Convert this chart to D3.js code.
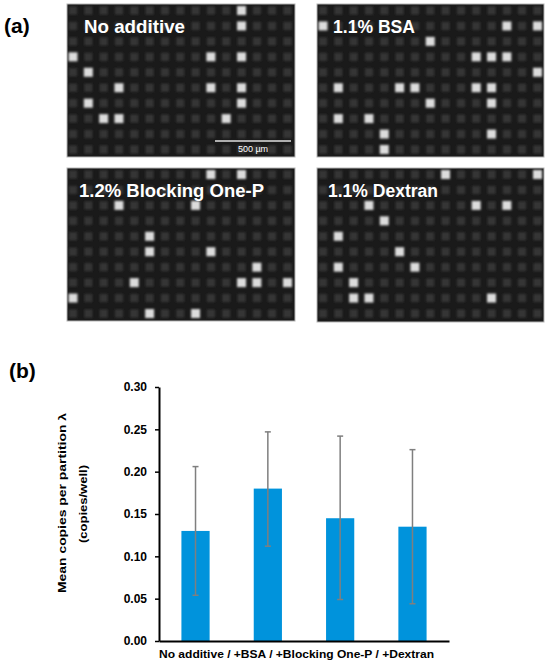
<!DOCTYPE html>
<html>
<head>
<meta charset="utf-8">
<script src="https://cdn.jsdelivr.net/npm/d3@7"></script>
<style>
  body { margin: 0; background: #fff; }
  text { font-family: "Liberation Sans", Arial, sans-serif; }
</style>
</head>
<body>
<div id="container"></div>
<script>
/* CONSTANTS AND GLOBALS */
const width = 550,
  height = 668;

/* DATA */
// (a) well images: 15 x 10 grid, bright wells as [column, row]
const panelTitles = ["No additive", "1.1% BSA", "1.2% Blocking One-P", "1.1% Dextran"];
const brightNoAdditive = [[11,0],[11,1],[0,3],[9,3],[11,3],[1,4],[3,5],[9,5],[11,5],[1,6],[11,6],[2,7],[3,7],[10,7]];
const brightBSA = [[0,1],[12,1],[14,1],[7,2],[10,3],[11,3],[12,3],[14,4],[1,5],[5,5],[6,5],[10,5],[11,5],[7,6],[11,6],[1,7],[3,7],[4,8],[11,8],[4,9]];
const brightBlocking = [[9,0],[11,0],[3,2],[8,2],[5,4],[5,5],[9,5],[12,6],[4,7],[11,7],[12,7],[14,7],[0,8],[5,9],[8,9]];
const brightDextran = [[8,0],[14,0],[3,2],[10,2],[12,2],[4,3],[1,4],[5,5],[1,6],[6,6],[2,7],[2,8],[3,8],[11,8]];
const gridCols = 15, gridRows = 10;
const scaleBarLabel = "500 µm";

// (b) bar chart
const conditions = ["No additive", "+BSA", "+Blocking One-P", "+Dextran"];
const meanLambda = [0.13, 0.18, 0.145, 0.135];
const errLow = [0.054, 0.112, 0.049, 0.044];
const errHigh = [0.206, 0.247, 0.242, 0.226];
const yTicks = [0, 0.05, 0.10, 0.15, 0.20, 0.25, 0.30];

const svg = d3.select("#container")
  .append("svg")
  .attr("width", width)
  .attr("height", height)
  .attr("viewBox", [0, 0, width, height]);

const defs = svg.append("defs");
defs.append("filter").attr("id", "soft")
  .attr("x", "-5%").attr("y", "-5%").attr("width", "110%").attr("height", "110%")
  .append("feGaussianBlur").attr("stdDeviation", 0.9);

/* PANEL (a) */
svg.append("text")
  .attr("x", 4).attr("y", 33)
  .attr("font-size", 21).attr("font-weight", "bold")
  .text("(a)");

const panels = [
  { x: 67, y: 4, w: 228, h: 153, bright: brightNoAdditive, tx: 84, ty: 33, tl: 101 },
  { x: 317, y: 4, w: 227, h: 153, bright: brightBSA, tx: 333, ty: 33, tl: 82 },
  { x: 67, y: 168, w: 228, h: 153, bright: brightBlocking, tx: 79, ty: 197, tl: 185 },
  { x: 317, y: 168, w: 227, h: 154, bright: brightDextran, tx: 328, ty: 197, tl: 110 }
];

const colScale = d3.scaleLinear().domain([0, gridCols - 1]).range([6, 220.5]);
const rowScale = d3.scaleLinear().domain([0, gridRows - 1]).range([6.5, 145.5]);
const allCells = d3.cross(d3.range(gridCols), d3.range(gridRows));

panels.forEach((p, i) => {
  const g = svg.append("g").attr("transform", `translate(${p.x},${p.y})`);
  g.append("rect")
    .attr("width", p.w).attr("height", p.h)
    .attr("fill", "#1a1a1a")
    .attr("stroke", "#b5b5b5").attr("stroke-width", 1);

  const brightSet = new Set(p.bright.map(d => d.join(",")));
  const isBright = d => brightSet.has(d.join(","));
  g.append("g").attr("filter", "url(#soft)")
    .selectAll("rect.well")
    .data(allCells)
    .join("rect")
    .attr("class", "well")
    .attr("x", d => colScale(d[0]) - (isBright(d) ? 4.5 : 4))
    .attr("y", d => rowScale(d[1]) - (isBright(d) ? 4.5 : 4))
    .attr("width", d => isBright(d) ? 9 : 8)
    .attr("height", d => isBright(d) ? 9 : 8)
    .attr("fill", d => isBright(d) ? "#dcdcdc" : "#363636");

  svg.append("text")
    .attr("x", p.tx).attr("y", p.ty)
    .attr("fill", "#fff")
    .attr("font-size", 18).attr("font-weight", "bold")
    .attr("textLength", p.tl).attr("lengthAdjust", "spacingAndGlyphs")
    .text(panelTitles[i]);
});

// scale bar in first image
svg.append("line")
  .attr("x1", 215).attr("x2", 291).attr("y1", 141).attr("y2", 141)
  .attr("stroke", "#e0e0e0").attr("stroke-width", 1.5);
svg.append("text")
  .attr("x", 253).attr("y", 151.5)
  .attr("text-anchor", "middle")
  .attr("fill", "#fff").attr("font-size", 9)
  .text(scaleBarLabel);

/* PANEL (b) */
svg.append("text")
  .attr("x", 9).attr("y", 378)
  .attr("font-size", 21).attr("font-weight", "bold")
  .text("(b)");

const xScale = d3.scaleBand()
  .domain(conditions)
  .range([159, 449])
  .paddingInner(0.61)
  .paddingOuter(0.31);

const yScale = d3.scaleLinear()
  .domain([0, 0.3])
  .range([641, 387]);

const bars = conditions.map((c, i) => ({
  c, v: meanLambda[i], lo: errLow[i], hi: errHigh[i]
}));

svg.append("g")
  .selectAll("rect.bar")
  .data(bars)
  .join("rect")
  .attr("class", "bar")
  .attr("x", d => xScale(d.c))
  .attr("y", d => yScale(d.v))
  .attr("width", xScale.bandwidth())
  .attr("height", d => yScale(0) - yScale(d.v))
  .attr("fill", "#0093dc");

const err = svg.append("g")
  .attr("stroke", "#7f7f7f")
  .attr("stroke-width", 1.5);
err.selectAll("line.stem")
  .data(bars)
  .join("line")
  .attr("class", "stem")
  .attr("x1", d => xScale(d.c) + xScale.bandwidth() / 2)
  .attr("x2", d => xScale(d.c) + xScale.bandwidth() / 2)
  .attr("y1", d => yScale(d.lo))
  .attr("y2", d => yScale(d.hi));
err.selectAll("line.cap")
  .data(bars.flatMap(d => [{ c: d.c, y: d.lo }, { c: d.c, y: d.hi }]))
  .join("line")
  .attr("class", "cap")
  .attr("x1", d => xScale(d.c) + xScale.bandwidth() / 2 - 3)
  .attr("x2", d => xScale(d.c) + xScale.bandwidth() / 2 + 3)
  .attr("y1", d => yScale(d.y))
  .attr("y2", d => yScale(d.y));

// axes
const yAxis = d3.axisLeft(yScale)
  .tickValues(yTicks)
  .tickFormat(d3.format(".2f"))
  .tickSize(4)
  .tickSizeOuter(0)
  .tickPadding(8);

svg.append("g")
  .attr("transform", `translate(159,0)`)
  .call(yAxis)
  .call(g => g.select(".domain").attr("stroke-width", 2))
  .call(g => g.selectAll(".tick line").attr("stroke-width", 1.5))
  .selectAll(".tick text")
  .attr("font-family", "Liberation Sans, Arial, sans-serif")
  .attr("font-size", 12)
  .attr("font-weight", "bold")
  .attr("fill", "#000");

const xAxis = d3.axisBottom(xScale).tickValues([]).tickSizeOuter(0);
svg.append("g")
  .attr("transform", `translate(0,641)`)
  .call(xAxis)
  .call(g => g.select(".domain").attr("stroke-width", 2));

// axis labels
svg.append("text")
  .attr("x", 159).attr("y", 658)
  .attr("font-size", 11).attr("font-weight", "bold")
  .attr("textLength", 275).attr("lengthAdjust", "spacingAndGlyphs")
  .text(conditions.join(" / "));

svg.append("text")
  .attr("transform", "translate(66,503) rotate(-90)")
  .attr("text-anchor", "middle")
  .attr("font-size", 11).attr("font-weight", "bold")
  .attr("textLength", 180).attr("lengthAdjust", "spacingAndGlyphs")
  .text("Mean copies per partition λ");

svg.append("text")
  .attr("transform", "translate(87,504) rotate(-90)")
  .attr("text-anchor", "middle")
  .attr("font-size", 11.5).attr("font-weight", "bold")
  .attr("textLength", 78).attr("lengthAdjust", "spacingAndGlyphs")
  .text("(copies/well)");
</script>
</body>
</html>
